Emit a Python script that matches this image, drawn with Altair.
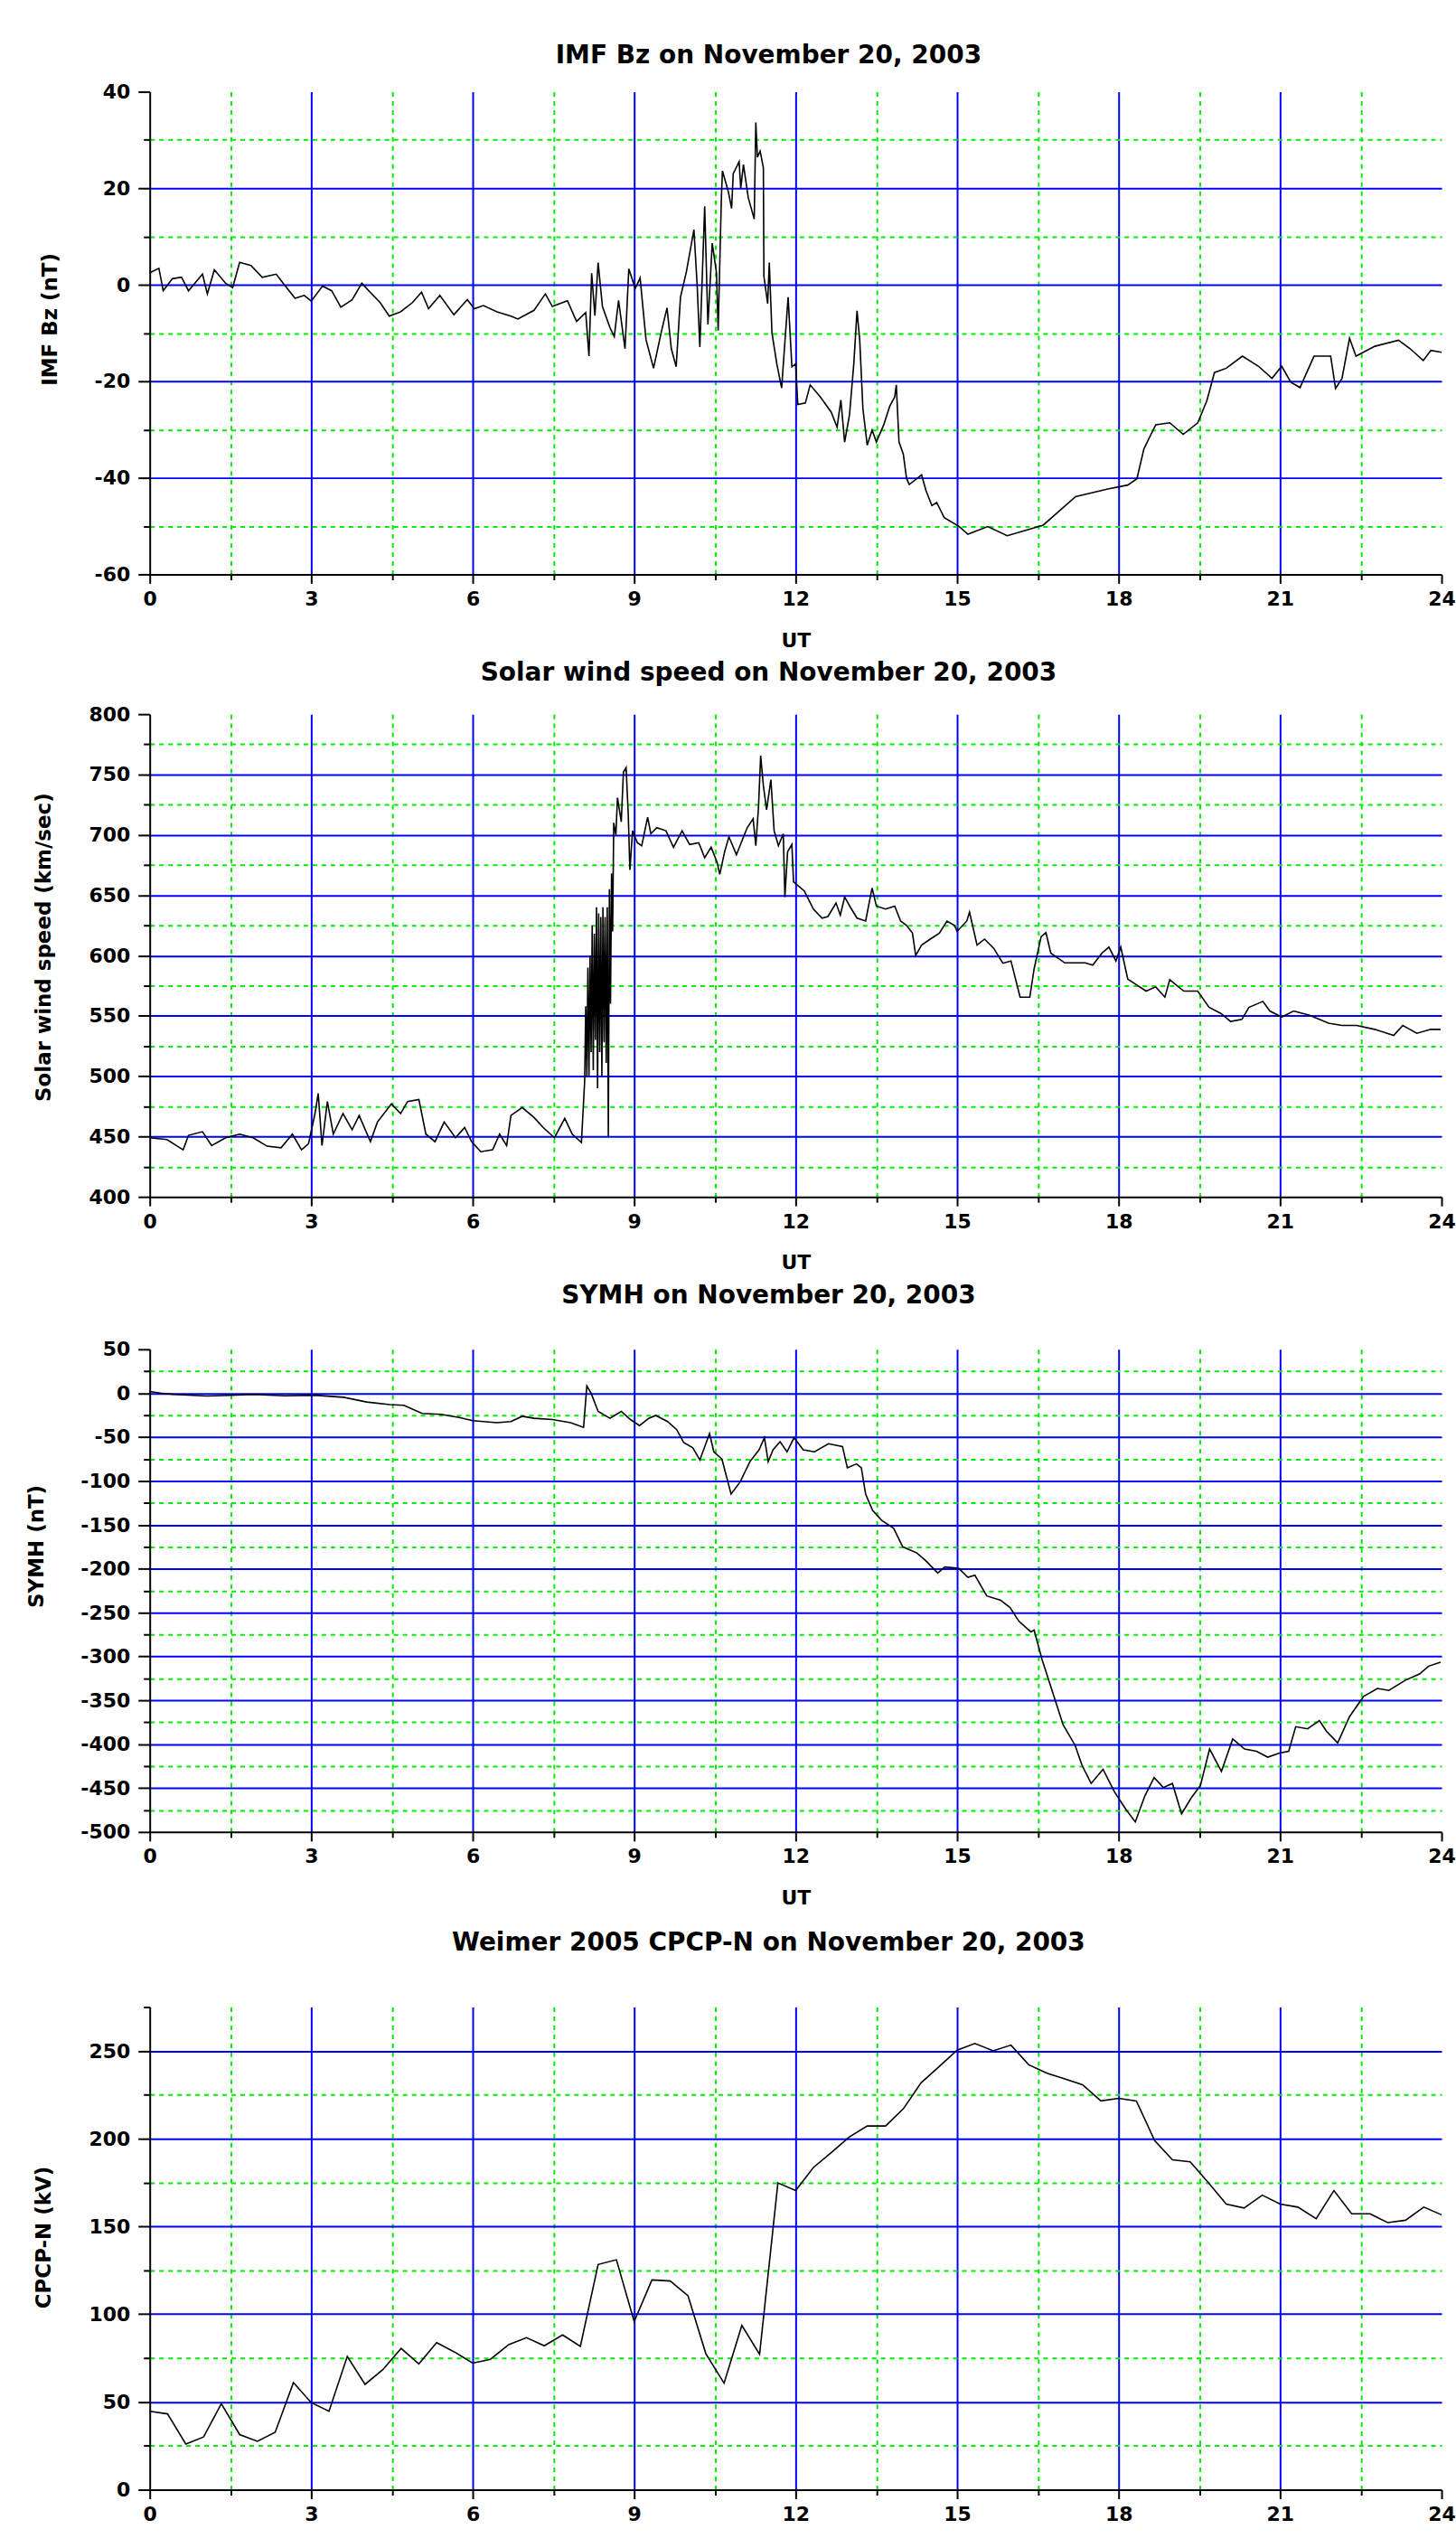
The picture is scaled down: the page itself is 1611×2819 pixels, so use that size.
import altair as alt
import pandas as pd

# ---------------- data ----------------
# Panel 1: IMF Bz (nT) vs UT hour
bz_t = [0.0, 0.17, 0.25, 0.42, 0.59, 0.72, 0.98, 1.07, 1.2, 1.41,
        1.54, 1.67, 1.88, 2.09, 2.35, 2.48, 2.7, 2.87, 3.0, 3.21,
        3.38, 3.55, 3.76, 3.94, 4.07, 4.28, 4.45, 4.66, 4.88, 5.05,
        5.18, 5.39, 5.65, 5.9, 6.03, 6.2, 6.45, 6.71, 6.84, 7.14,
        7.35, 7.48, 7.76, 7.93, 8.1, 8.16, 8.21, 8.27, 8.33, 8.41,
        8.55, 8.63, 8.71, 8.83, 8.9, 9.02, 9.11, 9.22, 9.36, 9.5,
        9.61, 9.69, 9.78, 9.86, 9.97, 10.11, 10.17, 10.22, 10.31, 10.37,
        10.45, 10.53, 10.56, 10.62, 10.64, 10.75, 10.81, 10.84, 10.95, 10.98,
        11.03, 11.12, 11.23, 11.26, 11.29, 11.34, 11.4, 11.41, 11.48, 11.51,
        11.56, 11.65, 11.74, 11.78, 11.86, 11.93, 12.0, 12.04, 12.18, 12.27,
        12.46, 12.66, 12.77, 12.84, 12.91, 13.0, 13.08, 13.14, 13.19, 13.25,
        13.33, 13.42, 13.5, 13.64, 13.75, 13.84, 13.87, 13.92, 14.0, 14.06,
        14.11, 14.34, 14.42, 14.53, 14.62, 14.76, 15.04, 15.2, 15.57, 15.93,
        16.6, 17.2, 17.8, 18.17, 18.34, 18.47, 18.69, 18.95, 19.2, 19.47,
        19.64, 19.78, 20.0, 20.3, 20.6, 20.85, 21.03, 21.2, 21.37, 21.63,
        21.94, 22.03, 22.15, 22.29, 22.41, 22.76, 23.2, 23.41, 23.66, 23.8,
        24.0]
bz_v = [2.5, 3.4, -1.25, 1.25, 1.55, -1.25, 2.2, -1.9, 3.1, 0.3,
        -0.6, 4.65, 4.0, 1.55, 2.2, 0.3, -2.8, -2.2, -3.4, -0.3,
        -1.25, -4.65, -3.1, 0.3, -1.25, -3.7, -6.5, -5.6, -3.7, -1.55,
        -4.95, -2.2, -6.2, -3.1, -4.95, -4.3, -5.6, -6.5, -7.1, -5.3,
        -1.9, -4.5, -3.3, -7.6, -5.75, -14.8, 2.4, -6.4, 4.6, -4.5,
        -8.9, -10.75, -3.25, -13.25, 3.3, -0.75, 1.4, -11.4, -17.3, -10,
        -4.8, -13.25, -17, -2.6, 2.7, 11.4, -0.1, -12.9, 16.25, -8.25,
        8.6, 2.4, -9.5, 18, 23.6, 19.25, 15.8, 23, 25.5, 20,
        24.9, 18, 13.6, 33.6, 26.4, 27.7, 24.25, 1.75, -3.9, 4.6,
        -10, -16.4, -21.4, -15, -2.6, -17, -16.4, -24.8, -24.5, -20.75,
        -23.25, -26.4, -29.5, -23.9, -32.6, -27, -16.4, -5.4, -11.4, -25.75,
        -33.25, -30.1, -32.6, -28.9, -25.1, -23.25, -20.75, -32.6, -35.1, -40.1,
        -41.4, -39.4, -42.6, -45.75, -45.1, -48.25, -50.1, -51.7, -50.1, -52,
        -49.8, -43.9, -42.3, -41.5, -40.2, -34, -29, -28.6, -31, -28.6,
        -24, -18.2, -17.3, -14.8, -16.9, -19.4, -16.9, -20.2, -21.3, -14.8,
        -14.8, -21.5, -19.4, -11.1, -14.8, -12.75, -11.5, -13.2, -15.7, -13.6,
        -14]

# Panel 2: solar wind speed (km/sec), (UT hour, value)
sw_pairs = [
    (0.0, 449), (0.32, 447.5), (0.62, 439), (0.72, 451), (0.98, 454), (1.15, 442.5), (1.41, 449),
    (1.67, 452), (1.92, 449), (2.18, 442), (2.44, 440.7), (2.65, 452), (2.82, 439), (2.95, 444),
    (3.07, 469), (3.13, 485.7), (3.2, 442.5), (3.3, 479), (3.41, 452), (3.59, 469), (3.76, 455.7),
    (3.89, 467.4), (4.1, 445.7), (4.23, 462), (4.49, 477), (4.66, 469), (4.79, 479), (5.0, 480.7),
    (5.13, 452), (5.3, 445.7), (5.47, 462), (5.68, 449), (5.85, 457.4), (5.98, 445.7), (6.15, 437.4),
    (6.37, 439), (6.5, 452), (6.63, 442.5), (6.71, 467.4), (6.92, 474), (7.14, 465.7), (7.31, 457.4),
    (7.52, 449), (7.71, 465), (7.85, 452), (8.02, 445),
    (8.08, 496), (8.10, 558), (8.12, 500), (8.14, 590), (8.16, 500), (8.18, 600), (8.20, 520),
    (8.22, 625), (8.24, 505), (8.26, 618), (8.28, 530), (8.30, 640), (8.32, 490), (8.34, 635),
    (8.36, 520), (8.38, 632), (8.40, 500), (8.42, 640), (8.44, 528), (8.46, 632), (8.48, 511),
    (8.50, 640), (8.52, 450), (8.54, 655), (8.56, 560), (8.58, 668), (8.60, 620), (8.62, 710),
    (8.66, 700), (8.69, 730.8), (8.76, 710.8), (8.8, 752), (8.85, 755.7), (8.89, 717), (8.92, 671),
    (8.97, 703.4), (9.06, 693.4), (9.14, 691), (9.25, 714.6), (9.31, 700.9), (9.42, 705.9),
    (9.59, 703.4), (9.73, 689.7), (9.89, 703.4), (10.03, 692), (10.2, 693.4), (10.31, 681),
    (10.43, 689.7), (10.54, 677.2), (10.59, 667.2), (10.68, 686), (10.76, 698.4), (10.9, 683.5),
    (11.01, 696), (11.1, 705.9), (11.21, 713.3), (11.26, 691), (11.31, 723.3), (11.35, 765.7),
    (11.4, 740.8), (11.46, 720.8), (11.54, 745.8), (11.6, 703.4), (11.68, 691), (11.77, 700.9),
    (11.8, 648.5), (11.85, 686), (11.93, 692), (11.96, 661), (12.16, 653.5), (12.33, 638.5),
    (12.49, 631), (12.6, 632.3), (12.75, 643.5), (12.83, 633.5), (12.91, 648.5), (13.02, 639.8),
    (13.14, 631), (13.3, 628.6), (13.42, 656), (13.5, 641), (13.67, 638.5), (13.84, 641),
    (13.95, 628.6), (14.06, 625), (14.17, 618.6), (14.23, 600), (14.34, 608.6), (14.5, 613.6),
    (14.67, 618.6), (14.81, 628.6), (14.95, 625), (15.0, 620), (15.18, 628.6), (15.23, 636),
    (15.37, 608.6), (15.51, 613.6), (15.68, 606), (15.85, 593.6), (16.0, 595.5), (16.17, 565.5),
    (16.35, 565.5), (16.43, 588.9), (16.56, 615.5), (16.65, 619), (16.74, 602), (17.0, 593.9),
    (17.38, 593.9), (17.52, 592), (17.69, 602), (17.82, 607), (17.95, 595.5), (18.04, 607),
    (18.17, 580.5), (18.34, 575.5), (18.51, 570.5), (18.69, 574), (18.86, 565.5), (18.95, 580),
    (19.21, 570.5), (19.47, 570.5), (19.68, 557.1), (19.9, 552), (20.08, 545.4), (20.29, 547),
    (20.42, 557), (20.68, 562), (20.81, 554), (21.03, 549), (21.25, 554), (21.55, 550.5),
    (21.9, 543.9), (22.15, 542), (22.42, 542), (22.76, 538.8), (23.11, 533.8), (23.28, 542),
    (23.54, 535.5), (23.8, 538.8), (23.98, 538.8)]

# Panel 3: SYMH (nT), (UT hour, value)
sym_pairs = [
    (0.0, 2), (0.2, 0), (0.45, -1.4), (1.06, -3.2), (1.5, -2.5), (1.92, -1.4), (2.5, -3),
    (3.07, -2.3), (3.6, -4.6), (4.03, -10), (4.46, -13), (4.72, -13.8), (5.06, -23), (5.41, -24),
    (5.75, -27.6), (6.0, -31.3), (6.45, -33.6), (6.71, -32.3), (6.92, -26.3), (7.14, -28.6),
    (7.48, -30), (7.82, -33.6), (8.06, -39), (8.12, 8.3), (8.2, 0), (8.33, -20.7), (8.55, -28.6),
    (8.76, -20.7), (8.93, -30), (9.1, -36.9), (9.27, -28.6), (9.4, -25.3), (9.62, -32.3),
    (9.79, -41.5), (9.92, -56.2), (10.09, -62.2), (10.22, -76), (10.4, -46), (10.48, -66.8),
    (10.63, -75), (10.8, -115), (10.97, -101), (11.15, -78), (11.32, -64.5), (11.42, -50.7),
    (11.49, -78), (11.58, -64.5), (11.71, -55.3), (11.84, -66.8), (11.97, -50.7), (12.14, -64.5),
    (12.35, -66.8), (12.61, -57.6), (12.87, -60.8), (12.96, -85), (13.13, -80.6), (13.22, -85),
    (13.3, -115), (13.43, -133.6), (13.6, -145), (13.82, -154), (13.99, -175), (14.25, -182),
    (14.42, -191), (14.64, -205), (14.77, -198), (15.03, -199.5), (15.2, -209.7), (15.33, -207.4),
    (15.55, -231), (15.81, -236), (15.98, -244), (16.15, -260), (16.37, -272), (16.43, -270),
    (16.58, -304), (16.8, -345.6), (16.97, -378), (17.19, -401), (17.32, -424), (17.49, -444.7),
    (17.71, -428.6), (17.92, -454), (18.14, -474.7), (18.31, -488.5), (18.49, -458.5),
    (18.66, -438), (18.83, -449.3), (19.0, -444.7), (19.17, -479.3), (19.35, -461), (19.52, -447),
    (19.69, -405.5), (19.91, -431), (20.12, -394), (20.34, -405.5), (20.56, -408), (20.77, -414.7),
    (20.99, -410), (21.16, -408), (21.29, -380), (21.51, -382.5), (21.73, -373), (21.86, -385),
    (22.07, -398.6), (22.29, -368.6), (22.55, -345.6), (22.81, -336.4), (23.02, -338.7),
    (23.33, -327), (23.59, -320), (23.76, -311), (23.98, -306.5)]

# Panel 4: Weimer 2005 CPCP-N (kV), 20-minute values
cp_t = [0.0, 0.33, 0.67, 1.0, 1.33, 1.67, 2.0, 2.33, 2.67, 3.0,
        3.33, 3.67, 4.0, 4.33, 4.67, 5.0, 5.33, 5.67, 6.0, 6.33,
        6.67, 7.0, 7.33, 7.67, 8.0, 8.33, 8.67, 9.0, 9.33, 9.67,
        10.0, 10.33, 10.67, 11.0, 11.33, 11.67, 12.0, 12.33, 12.67, 13.0,
        13.33, 13.67, 14.0, 14.33, 14.67, 15.0, 15.33, 15.67, 16.0, 16.33,
        16.67, 17.0, 17.33, 17.67, 18.0, 18.33, 18.67, 19.0, 19.33, 19.67,
        20.0, 20.33, 20.67, 21.0, 21.33, 21.67, 22.0, 22.33, 22.67, 23.0,
        23.33, 23.67, 24.0]
cp_v = [44.7, 43.2, 26, 30, 49, 31.4, 27.6, 32.7, 61, 49.6,
        44.7, 75.9, 60, 68.4, 80.5, 71.7, 83.8, 78.3, 72.1, 74.3,
        82.7, 86.6, 82, 88.2, 81.6, 128.3, 131, 95.8, 119.5, 118.9,
        110.5, 77.6, 60.7, 93.6, 77.2, 174.8, 170.4, 183.6, 192.3, 201,
        207.2, 207.2, 217, 231.8, 241.2, 250.4, 254.2, 250, 253.3, 242.1,
        237.3, 234, 230.7, 221.5, 223, 221.5, 198.9, 187.9, 186.8, 174.8,
        162.7, 160.5, 167.8, 162.7, 161, 154.4, 170.4, 157.2, 157.2, 152.2,
        153.5, 161, 156.6]

# tick values
x_ticks = [0, 1.5, 3, 4.5, 6, 7.5, 9, 10.5, 12, 13.5, 15, 16.5, 18, 19.5, 21, 22.5, 24]
bz_ticks = [-60, -50, -40, -30, -20, -10, 0, 10, 20, 30, 40]
sw_ticks = [400, 425, 450, 475, 500, 525, 550, 575, 600, 625, 650, 675, 700, 725, 750, 775, 800]
sym_ticks = [50, 25, 0, -25, -50, -75, -100, -125, -150, -175, -200, -225, -250, -275, -300,
             -325, -350, -375, -400, -425, -450, -475, -500]
cp_ticks = [0, 25, 50, 75, 100, 125, 150, 175, 200, 225, 250, 275]

# ---------------- styling ----------------
FONT = "DejaVu Sans"
BLUE = "#0000FF"
GREEN = "#00EE00"
W, H = 1432, 535


def cond(test, a, b):
    return {"condition": {"test": test, "value": a}, "value": b}


def panel(t, v, title, title_offset, ytitle, ydom, yticks, ystep, ytx, yty,
          xtitle=None):
    df = pd.DataFrame({"t": t, "v": v})
    xmaj = "datum.value % 3 === 0"
    xedge = "datum.value === 0 || datum.value === 24"
    ymaj = f"datum.value % {ystep} === 0"
    yedge = f"datum.value === {ydom[0]} || datum.value === {ydom[1]}"

    xkw = dict(
        values=x_ticks,
        labelExpr=f"{xmaj} ? '' + datum.value : ''",
        labelFont=FONT, labelFontSize=22, labelFontWeight="bold", labelColor="black",
        labelPadding=7, labelFlush=False, labelOverlap=False,
        tickColor="black", tickWidth=2, tickSize=cond(xmaj, 10, 6),
        domainColor="black", domainWidth=2,
        grid=True, gridWidth=2,
        gridColor=cond(xmaj, BLUE, GREEN),
        gridDash=cond(xmaj, [], [5, 5]),
        gridOpacity=cond(xedge, 0, 1),
    )
    if xtitle is not None:
        xkw.update(title=xtitle, titleFont=FONT, titleFontSize=22,
                   titleFontWeight="bold", titleColor="black", titlePadding=25,
                   titleLineHeight=13)
    else:
        xkw.update(title=None)

    yaxis = alt.Axis(
        values=yticks,
        labelExpr=f"{ymaj} ? '' + datum.value : ''",
        labelFont=FONT, labelFontSize=22, labelFontWeight="bold", labelColor="black",
        labelPadding=9, labelFlush=False, labelOverlap=False,
        tickColor="black", tickWidth=2, tickSize=cond(ymaj, 13, 7),
        domainColor="black", domainWidth=2,
        grid=True, gridWidth=2,
        gridColor=cond(ymaj, BLUE, GREEN),
        gridDash=cond(ymaj, [], [5, 5]),
        gridOpacity=cond(yedge, 0, 1),
        title=ytitle, titleFont=FONT, titleFontSize=23, titleFontWeight="bold",
        titleColor="black", titleAngle=270, titleAlign="center",
        titleBaseline="bottom", titleX=ytx, titleY=yty,
    )

    return alt.Chart(df).mark_line(color="black", strokeWidth=1.6).encode(
        x=alt.X("t:Q", scale=alt.Scale(domain=[0, 24], nice=False, zero=False),
                axis=alt.Axis(**xkw)),
        y=alt.Y("v:Q", scale=alt.Scale(domain=ydom, nice=False, zero=False),
                axis=yaxis),
    ).properties(
        width=W, height=H,
        title=alt.TitleParams(title, font=FONT, fontSize=28, fontWeight="bold",
                              color="black", anchor="middle", frame="group",
                              dx=-30, offset=title_offset),
    )


sw_t = [p[0] for p in sw_pairs]
sw_v = [p[1] for p in sw_pairs]
sym_t = [p[0] for p in sym_pairs]
sym_v = [p[1] for p in sym_pairs]

p1 = panel(bz_t, bz_v, "IMF Bz on November 20, 2003", 14, "IMF Bz (nT)",
           [-60, 40], bz_ticks, 20, -98, 252, xtitle="UT")
p2 = panel(sw_t, sw_v, "Solar wind speed on November 20, 2003", 20,
           "Solar wind speed (km/sec)", [400, 800], sw_ticks, 50, -105, 258, xtitle="UT")
p3 = panel(sym_t, sym_v, "SYMH on November 20, 2003", 34, "SYMH (nT)",
           [-500, 50], sym_ticks, 50, -113, 218, xtitle=["UT", ""])
p4 = panel(cp_t, cp_v, "Weimer 2005 CPCP-N on November 20, 2003", 46, "CPCP-N (kV)",
           [0, 275], cp_ticks, 50, -105, 255)

chart = alt.vconcat(p1, p2, p3, p4, spacing=12).properties(
    padding={"left": 30, "top": 46, "right": 0, "bottom": 10},
    background="white",
).configure_view(stroke=None)

chart.save("out.html", embed_options={"renderer": "svg", "actions": False})
